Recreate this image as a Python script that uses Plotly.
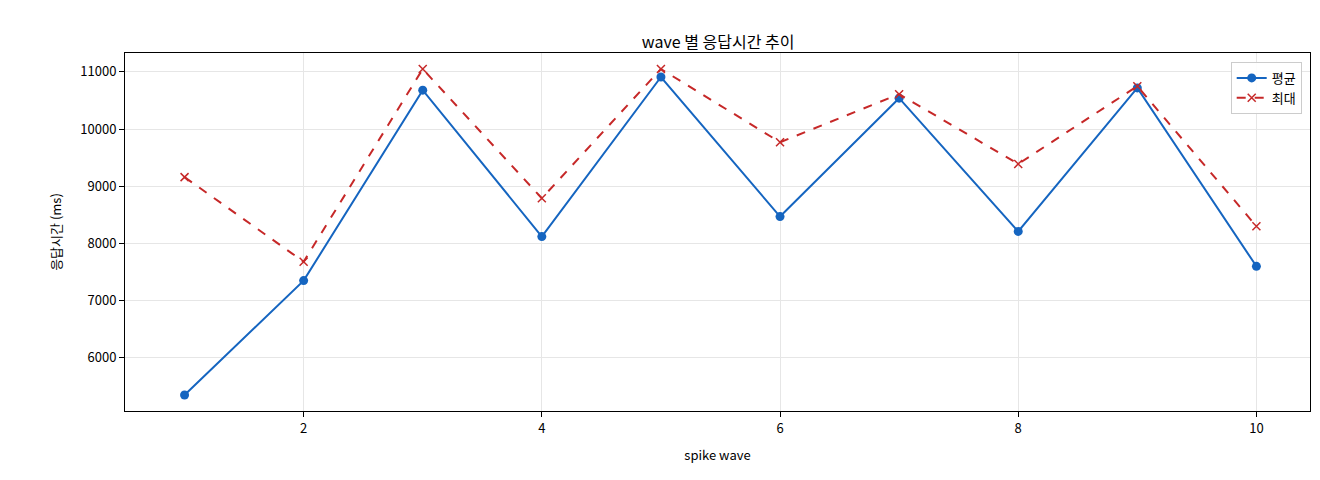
import plotly.graph_objects as go

waves = [1, 2, 3, 4, 5, 6, 7, 8, 9, 10]
avg_ms = [5350, 7350, 10680, 8120, 10910, 8470, 10540, 8210, 10720, 7600]
max_ms = [9160, 7680, 11050, 8790, 11050, 9770, 10610, 9390, 10750, 8300]

fig = go.Figure()
fig.add_trace(go.Scatter(x=waves, y=avg_ms, name="평균", mode="lines+markers",
                         line=dict(color="#1565c0", width=2), marker=dict(size=9, color="#1565c0")))
fig.add_trace(go.Scatter(x=waves, y=max_ms, name="최대", mode="lines+markers",
                         line=dict(color="#c62828", width=2, dash="dash"),
                         marker=dict(symbol="x-thin", size=8, line=dict(width=1.5, color="#c62828"), color="#c62828")))
ax = dict(showline=True, linecolor="black", mirror=True, gridcolor="#e6e6e6", ticks="outside",
          tickcolor="black", zeroline=False, automargin=False, tickformat="d")
fig.update_layout(
    width=1320, height=480, plot_bgcolor="white", paper_bgcolor="white",
    font=dict(family="Noto Sans CJK KR", size=13, color="black"),
    title=dict(text="wave 별 응답시간 추이", x=0.538, xanchor="center", y=0.94, font=dict(size=16)),
    margin=dict(l=117, r=18, t=45, b=77),
    xaxis=dict(ax, title=dict(text="spike wave", font=dict(size=13)), range=[0.5, 10.45], tickvals=[2, 4, 6, 8, 10]),
    yaxis=dict(ax, title=dict(text="응답시간 (ms)", font=dict(size=13)), range=[5070, 11330],
               tickvals=[6000, 7000, 8000, 9000, 10000, 11000]),
    legend=dict(x=0.993, y=0.975, xanchor="right", yanchor="top", bordercolor="#cccccc", borderwidth=1,
                bgcolor="rgba(255,255,255,0.9)"),
)
fig.write_html("out.html")
